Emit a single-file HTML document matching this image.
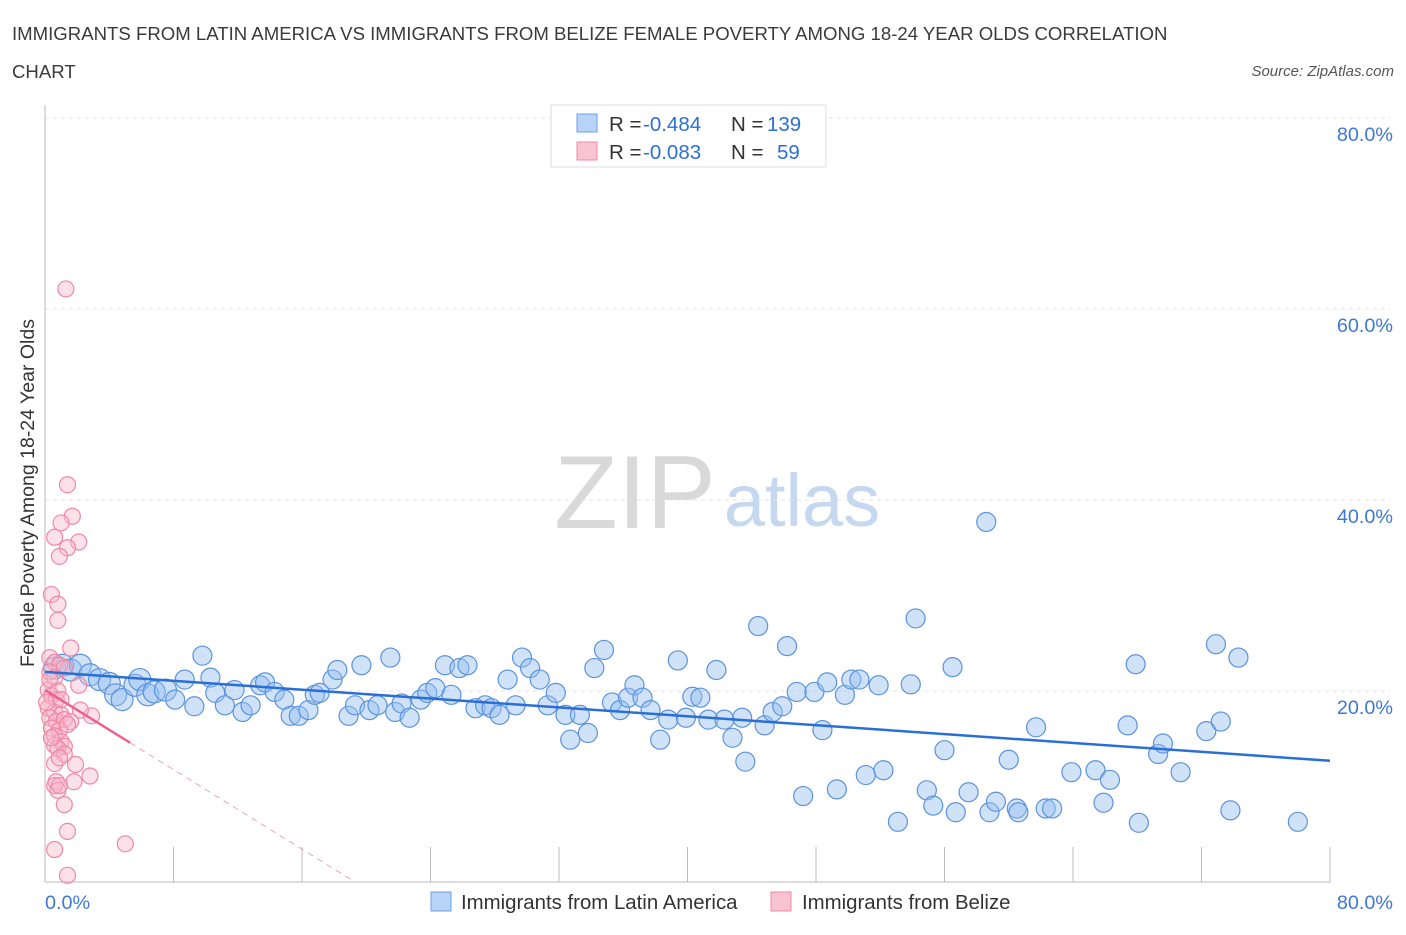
<!DOCTYPE html>
<html><head><meta charset="utf-8"><style>
body{margin:0;background:#fff;font-family:"Liberation Sans",sans-serif;}
svg text{font-family:"Liberation Sans",sans-serif;}
</style></head><body>
<svg id="chart" width="1406" height="930" xmlns="http://www.w3.org/2000/svg">
<text x="12" y="40" font-size="18.6" fill="#3a3a3a">IMMIGRANTS FROM LATIN AMERICA VS IMMIGRANTS FROM BELIZE FEMALE POVERTY AMONG 18-24 YEAR OLDS CORRELATION</text>
<text x="12" y="78" font-size="18.6" fill="#3a3a3a">CHART</text>
<text x="1394" y="76" font-size="15" font-style="italic" fill="#555" text-anchor="end">Source: ZipAtlas.com</text>
<text transform="translate(34,493) rotate(-90)" font-size="19.5" fill="#333" text-anchor="middle">Female Poverty Among 18-24 Year Olds</text>
<g>
<text x="635" y="528" font-size="104" font-family="Liberation Serif" fill="#d9d9d9" text-anchor="middle">ZIP</text>
<text x="802" y="526" font-size="74" fill="#c5d8f0" text-anchor="middle">atlas</text>
</g>
<g id="grid"></g><g id="axes"></g><g id="marks"></g>
<g>
<rect x="551" y="105" width="275" height="62" fill="#fff" stroke="#ddd"/>
<rect x="577" y="114" width="20" height="18" fill="#b7d3f5" stroke="#6f9fe0"/>
<text x="609" y="131" font-size="20.5" fill="#333">R =</text>
<text x="643" y="131" font-size="20.5" fill="#2c6fd6">-0.484</text>
<text x="731" y="131" font-size="20.5" fill="#333">N =</text>
<text x="767" y="131" font-size="20.5" fill="#2c6fd6">139</text>
<rect x="577" y="142" width="20" height="18" fill="#f9c4d2" stroke="#ec8aa7"/>
<text x="609" y="159" font-size="20.5" fill="#333">R =</text>
<text x="643" y="159" font-size="20.5" fill="#2c6fd6">-0.083</text>
<text x="731" y="159" font-size="20.5" fill="#333">N =</text>
<text x="777" y="159" font-size="20.5" fill="#2c6fd6">59</text>
</g>
<g>
<rect x="431" y="892" width="20" height="19" fill="#b7d3f5" stroke="#6f9fe0"/>
<text x="461" y="909" font-size="20.4" fill="#333">Immigrants from Latin America</text>
<rect x="771" y="892" width="20" height="19" fill="#f9c4d2" stroke="#ec8aa7"/>
<text x="802" y="909" font-size="20.4" fill="#333">Immigrants from Belize</text>
</g>
</svg>
<script>
const yTicks=[20,40,60,80];
const yTickLabels=["20.0%","40.0%","60.0%","80.0%"];
const xTickLabels=["0.0%","80.0%"];
const blueX=[0.6,1.1,1.6,2.2,2.8,3.4,4.0,4.4,4.8,5.6,5.9,6.4,6.8,7.5,8.1,8.7,9.3,9.8,10.3,10.6,11.2,11.8,12.3,12.8,13.4,13.7,14.3,14.9,15.3,15.8,16.4,16.8,17.1,17.9,18.2,18.9,19.3,19.7,20.2,20.7,21.5,21.8,22.2,22.7,23.4,23.8,24.3,24.9,25.3,25.8,26.3,26.8,27.4,27.8,28.3,28.8,29.3,29.7,30.2,30.8,31.3,31.8,32.4,32.7,33.3,33.8,34.2,34.8,35.3,35.8,36.3,36.7,37.2,37.7,38.3,38.8,39.4,39.9,40.3,40.8,41.3,41.8,42.3,42.8,43.4,43.6,44.4,44.8,45.3,45.9,46.2,46.8,47.2,47.9,48.4,48.7,49.3,49.8,50.2,50.7,51.1,51.9,52.2,53.1,53.9,54.2,54.9,55.3,56.0,56.5,56.7,57.5,58.6,58.8,59.2,60.0,60.5,60.6,61.7,62.3,62.7,63.9,65.4,65.9,66.3,67.4,67.9,68.1,69.3,69.6,70.7,72.3,72.9,73.2,73.8,74.3,78.0];
const blueY=[22.4,22.7,22.2,22.7,21.7,21.2,20.8,19.6,19.1,20.6,21.2,19.6,19.9,20.1,19.1,21.2,18.4,23.7,21.4,19.8,18.5,20.1,17.8,18.5,20.6,20.9,19.9,19.1,17.4,17.4,18.0,19.6,19.8,21.2,22.2,17.4,18.5,22.7,18.0,18.5,23.5,17.8,18.7,17.2,19.1,19.8,20.3,22.7,19.6,22.4,22.7,18.2,18.5,18.2,17.5,21.2,18.5,23.5,22.4,21.2,18.5,19.8,17.5,14.9,17.5,15.6,22.4,24.3,18.8,18.0,19.3,20.6,19.3,18.0,14.9,17.0,23.2,17.2,19.4,19.3,17.0,22.2,17.0,15.1,17.2,12.6,26.8,16.4,17.8,18.4,24.7,19.9,9.0,19.9,15.9,20.9,9.7,19.6,21.2,21.2,11.2,20.6,11.7,6.3,20.7,27.6,9.6,8.0,13.8,22.5,7.3,9.4,37.7,7.3,8.4,12.8,7.7,7.3,16.2,7.7,7.7,11.5,11.7,8.3,10.7,16.4,22.8,6.2,13.4,14.5,11.5,15.8,24.9,16.8,7.5,23.5,6.3];
const pinkX=[1.3,1.4,1.7,1.0,0.6,2.1,1.4,0.9,0.4,0.8,0.8,1.6,0.3,0.6,0.9,1.2,0.3,0.6,0.2,0.4,0.7,2.1,0.2,0.6,1.0,0.3,0.7,1.2,1.6,2.9,2.2,0.4,0.9,1.4,0.6,1.0,1.2,0.6,0.8,1.2,0.6,1.9,2.8,0.7,1.8,0.6,0.8,0.9,1.2,1.4,5.0,0.6,1.4,0.3,0.8,0.1,1.0,0.4,0.9];
const pinkY=[62.1,41.6,38.3,37.6,36.1,35.6,35.0,34.1,30.1,29.1,27.4,24.5,23.5,23.0,22.7,22.4,22.0,21.4,20.1,19.5,19.1,20.6,18.2,17.8,17.5,17.2,16.8,17.0,16.8,17.4,18.0,16.1,15.9,16.5,15.3,14.7,14.2,14.3,14.0,13.4,12.4,12.3,11.1,10.5,10.5,10.1,9.6,10.1,8.1,5.3,4.0,3.4,0.7,21.2,20.0,18.8,19.1,15.1,13.0];
const blueTrend=[22.0,12.7];
const pinkTrend=[20.1,-0.083];
const X0=45,X1=1330,Y0=882,Y1=118;
const sx=v=>X0+(X1-X0)*v/80, sy=v=>Y0-(Y0-Y1)*v/80;
const NS="http://www.w3.org/2000/svg";
function mk(p,t,a){const e=document.createElementNS(NS,t);for(const k in a)e.setAttribute(k,a[k]);p.appendChild(e);return e;}
const grid=document.getElementById('grid'),axes=document.getElementById('axes'),marks=document.getElementById('marks');
yTicks.forEach((v,i)=>{
 const l=mk(grid,'line',{x1:X0,x2:X1+60,y1:sy(v),y2:sy(v),stroke:'#e3e3e3','stroke-dasharray':'4,4'});
 
 
 const t=mk(axes,'text',{x:1393,y:sy(v)+23,'font-size':19.8,fill:'#3d78d6','text-anchor':'end'});t.textContent=yTickLabels[i];
 
 
});
const ax=mk(axes,'line',{x1:X0,x2:X1,y1:Y0,y2:Y0,stroke:'#bbb'});


const ay=mk(axes,'line',{x1:X0,x2:X0,y1:105,y2:Y0,stroke:'#bbb'});


for(let i=0;i<=10;i++){const tk=mk(axes,'line',{x1:sx(i*8),x2:sx(i*8),y1:Y0-35,y2:Y0,stroke:'#bbb'});
 
 }
[[0,'start',45],[80,'end',1393]].forEach((d,i)=>{const t=mk(axes,'text',{x:d[2],y:909,'font-size':19.8,fill:'#3d78d6','text-anchor':d[1]});t.textContent=xTickLabels[i];
 
 });
blueX.forEach((x,i)=>{const c=mk(marks,'circle',{cx:sx(x),cy:sy(blueY[i]),r:x<8?11:9.5,fill:'rgba(150,190,240,0.45)',stroke:'#5b93dd','stroke-width':1.2});
 
 });
pinkX.forEach((x,i)=>{const c=mk(marks,'circle',{cx:sx(x),cy:sy(pinkY[i]),r:8,fill:'rgba(248,180,200,0.4)',stroke:'#ee88a6','stroke-width':1.2});
 
 });
const bt=mk(marks,'line',{x1:sx(0),y1:sy(blueTrend[0]),x2:sx(80),y2:sy(blueTrend[1]),stroke:'#2a6fd6','stroke-width':2.5});


const slope=(0-pinkTrend[0])/19.3, pe=5.3;
const ps=mk(marks,'line',{x1:sx(0),y1:sy(pinkTrend[0]),x2:sx(pe),y2:sy(pinkTrend[0]+slope*pe),stroke:'#e8648c','stroke-width':2.5});


const pd=mk(marks,'line',{x1:sx(pe),y1:sy(pinkTrend[0]+slope*pe),x2:sx(19.3),y2:sy(0),stroke:'#eea0b6','stroke-width':1,'stroke-dasharray':'6,5'});


</script>
</body></html>
